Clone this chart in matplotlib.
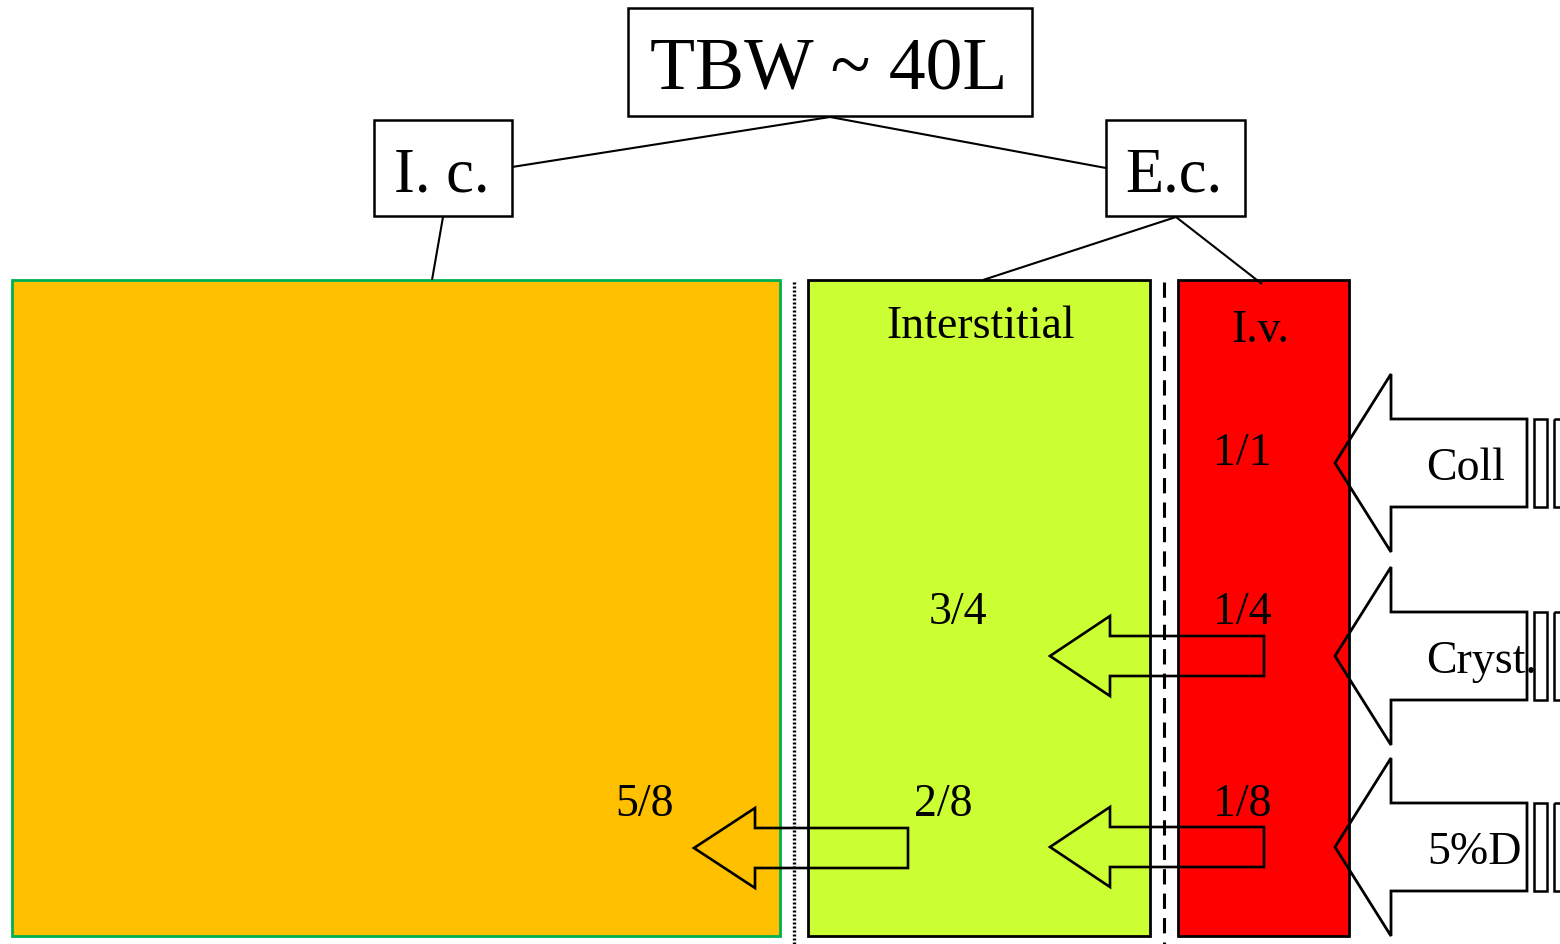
import matplotlib
matplotlib.use("Agg")
import matplotlib.pyplot as plt
from matplotlib.patches import Rectangle, Polygon

# ---- data ----
title_label = "TBW ~ 40L"
branch_labels = ["I. c.", "E.c."]
compartment_names = ["Interstitial", "I.v."]
fluid_labels = ["Coll", "Cryst.", "5%D"]
iv_fractions = ["1/1", "1/4", "1/8"]
interstitial_fractions = ["3/4", "2/8"]
ic_fractions = ["5/8"]

plt.rcParams['font.family'] = ['Liberation Serif', 'DejaVu Serif']

fig = plt.figure(figsize=(15.6, 9.45), dpi=100)
ax = fig.add_axes([0, 0, 1, 1])
ax.set_xlim(0, 1560)
ax.set_ylim(945, 0)
ax.axis('off')

K = 'black'

def box(x0, y0, x1, y1, **kw):
    ax.add_patch(Rectangle((x0, y0), x1 - x0, y1 - y0, **kw))

def line(p, q, lw=1.5):
    ax.plot([p[0], q[0]], [p[1], q[1]], color=K, lw=lw, solid_capstyle='butt')

def left_arrow(tip_x, cy, head_x, right_x, head_h, shaft_h, lw=1.9, z=5):
    pts = [(tip_x, cy), (head_x, cy - head_h), (head_x, cy - shaft_h),
           (right_x, cy - shaft_h), (right_x, cy + shaft_h), (head_x, cy + shaft_h),
           (head_x, cy + head_h)]
    ax.add_patch(Polygon(pts, closed=True, fill=False, edgecolor=K, lw=lw,
                         joinstyle='miter', zorder=z))

# ---- header boxes ----
box(628, 9, 1032, 117, facecolor='white', edgecolor=K, lw=1.8, zorder=3)
ax.text(829, 90, title_label, ha='center', va='baseline', fontsize=53, zorder=4)
box(374, 121, 512, 217, facecolor='white', edgecolor=K, lw=1.8, zorder=3)
ax.text(442, 192, branch_labels[0], ha='center', va='baseline', fontsize=45, zorder=4)
box(1106, 121, 1245, 217, facecolor='white', edgecolor=K, lw=1.8, zorder=3)
ax.text(1174, 192, branch_labels[1], ha='center', va='baseline', fontsize=45, zorder=4)

# connectors
line((830, 118), (512, 168))
line((830, 118), (1106, 169))
line((443, 218), (432, 281))
line((1176, 218), (983, 281))
line((1176, 218), (1262, 285))

# ---- compartments ----
box(12, 281, 780, 937, facecolor='#FFC000', edgecolor='#00B050', lw=2.0, zorder=1)
box(808, 281, 1150, 937, facecolor='#CCFF33', edgecolor=K, lw=2.0, zorder=1)
box(1178, 281, 1349, 937, facecolor='#FF0000', edgecolor=K, lw=2.0, zorder=1)

ax.plot([794, 794], [283, 945], color=K, lw=2.4, linestyle=(0, (0.6, 0.6)), zorder=2)
ax.plot([1164, 1164], [283, 945], color=K, lw=2.2, linestyle=(0, (5, 3)), zorder=2)

ax.text(981, 338, compartment_names[0], ha='center', va='baseline', fontsize=33, zorder=4)
ax.text(1260, 342, compartment_names[1], ha='center', va='baseline', fontsize=33, zorder=4)

# fractions
iv_y = [465, 624, 816]
for s, y in zip(iv_fractions, iv_y):
    ax.text(1242, y, s, ha='center', va='baseline', fontsize=33, zorder=4)
for s, (x, y) in zip(interstitial_fractions, [(958, 624), (943, 816)]):
    ax.text(x, y, s, ha='center', va='baseline', fontsize=33, zorder=4)
ax.text(645, 816, ic_fractions[0], ha='center', va='baseline', fontsize=33, zorder=4)

# small transfer arrows
left_arrow(1050, 657, 1110, 1264, 40, 20)
left_arrow(1050, 848, 1110, 1264, 40, 20)
left_arrow(694, 849, 755, 908, 40, 20)

# ---- infusion arrows on the right ----
fluid_y = [464, 657, 848]
fluid_x = [1466, 1481, 1474]
for lab, cy, tx in zip(fluid_labels, fluid_y, fluid_x):
    left_arrow(1335, cy, 1391, 1527, 89, 44, lw=2.0)
    box(1534, cy - 44, 1547, cy + 44, fill=False, edgecolor=K, lw=1.8, zorder=5)
    box(1554, cy - 44, 1575, cy + 44, fill=False, edgecolor=K, lw=1.8, zorder=5)
    ax.text(tx, cy + 16, lab, ha='center', va='baseline', fontsize=33, zorder=6)

fig.savefig('out.png', dpi=100, facecolor='white')
